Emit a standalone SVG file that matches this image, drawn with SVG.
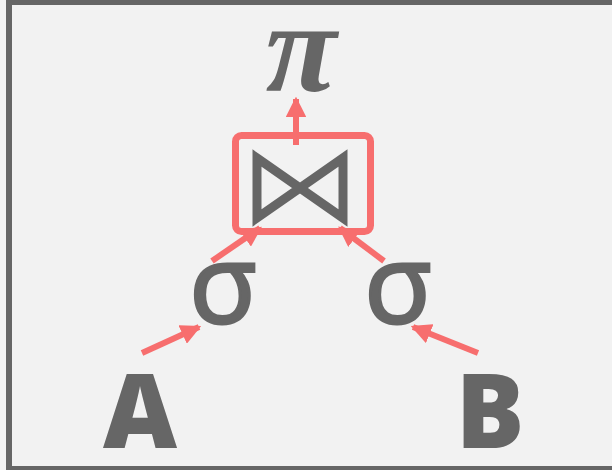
<svg xmlns="http://www.w3.org/2000/svg" width="612" height="470" viewBox="0 0 612 470">
<defs>
<style>
.sym{fill:#666666;font-family:"Open Sans","DejaVu Sans",sans-serif;font-weight:800;text-anchor:middle}
.sig{fill:#666666;stroke:#666666;stroke-width:3;font-family:"Open Sans","DejaVu Sans",sans-serif;font-weight:400;text-anchor:middle}
.pi{fill:#666666;font-family:"Liberation Serif","DejaVu Serif",serif;font-weight:bold;font-style:italic;text-anchor:middle}
.edge{stroke:#f76e6e;stroke-width:6;fill:none}
</style>
<marker id="ah" markerWidth="3.4" markerHeight="3.4" refX="3" refY="1.7" orient="auto" markerUnits="strokeWidth" viewBox="0 0 3.4 3.4">
<path d="M0,0 L3.4,1.7 L0,3.4 Z" fill="#f76e6e"/>
</marker>
</defs>
<rect x="0" y="0" width="612" height="470" fill="#f2f2f2"/>
<rect x="9" y="2" width="620" height="467" fill="#f2f2f2" stroke="#666666" stroke-width="6"/>
<g id="pi"><text class="pi" x="301" y="91" font-size="130">π</text></g>
<g id="join">
<rect x="235.5" y="135.5" width="135" height="96" rx="6" fill="none" stroke="#f76e6e" stroke-width="7"/>
<path d="M257,158 L343,218 L343,158 L257,218 Z" fill="none" stroke="#666666" stroke-width="9" stroke-linejoin="miter"/>
</g>
<g id="sigma1"><text class="sig" x="223" y="323" font-size="110">σ</text></g>
<g id="sigma2"><text class="sig" x="398" y="323" font-size="110">σ</text></g>
<g id="A"><text class="sym" x="140" y="448" font-size="102">A</text></g>
<g id="B"><text class="sym" x="490" y="448" font-size="102">B</text></g>
<g id="edges">
<line class="edge" x1="296" y1="145" x2="296" y2="99" marker-end="url(#ah)"/>
<line class="edge" x1="212" y1="261" x2="260" y2="228" marker-end="url(#ah)"/>
<line class="edge" x1="384" y1="261" x2="340" y2="228" marker-end="url(#ah)"/>
<line class="edge" x1="142" y1="353" x2="199" y2="327" marker-end="url(#ah)"/>
<line class="edge" x1="478" y1="353" x2="413" y2="327" marker-end="url(#ah)"/>
</g>
</svg>
